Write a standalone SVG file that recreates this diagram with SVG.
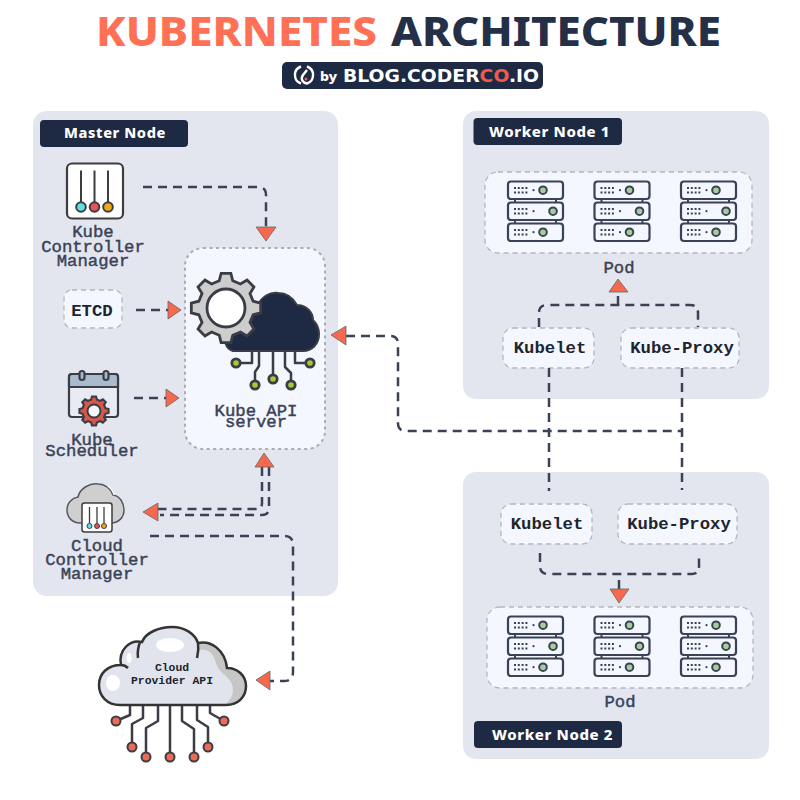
<svg xmlns="http://www.w3.org/2000/svg" width="800" height="800" viewBox="0 0 800 800">
<style>
.panel{fill:#e3e6ee}
.box{fill:#f4f7fd;stroke:#b4b7bf;stroke-width:1.300;stroke-dasharray:5 4}
.tag{fill:#1e2a44}
.tagt{font-family:"Noto Sans","Open Sans",sans-serif;font-weight:800;font-size:14.500px;letter-spacing:.6px;fill:#fff}
.m{font-family:"Liberation Mono",monospace;font-weight:400;font-size:17.300px;fill:#3a4258;stroke:#3a4258;stroke-width:.45;text-anchor:middle}
.k{font-family:"Liberation Mono",monospace;font-weight:700;font-size:17.300px;fill:#20242e;text-anchor:middle}
.c{fill:none;stroke:#3a4258;stroke-width:2.500;stroke-dasharray:9 6}
.a{fill:#f7694f;stroke:#666;stroke-width:.8;stroke-linejoin:round}
.ic{stroke:#3a3d45;stroke-width:2.200;stroke-linejoin:round;stroke-linecap:round}
.w{fill:none;stroke:#3a3d45;stroke-width:2.500;stroke-linejoin:round}
.lime{fill:#a3cb38;stroke:#3a3d45;stroke-width:2.800}
.red{fill:#ef6a55;stroke:#3a3d45;stroke-width:2}
.su{fill:#f4f7fd;stroke:#3a4258;stroke-width:2.200}
.dots{stroke:#3a4258;stroke-width:2;stroke-dasharray:2 1.800;fill:none}
.led{fill:#a6cf98;stroke:#3a4258;stroke-width:2}
</style>
<defs>
<polygon id="gear" points="27.17,-6.77 34.66,-4.87 34.66,4.87 27.17,6.77 24,14.42 27.95,21.06 21.06,27.95 14.42,24 6.77,27.17 4.87,34.66 -4.87,34.66 -6.77,27.17 -14.42,24 -21.06,27.95 -27.95,21.06 -24,14.42 -27.17,6.77 -34.66,4.87 -34.66,-4.87 -27.17,-6.77 -24,-14.42 -27.95,-21.06 -21.06,-27.95 -14.42,-24 -6.77,-27.17 -4.87,-34.66 4.87,-34.66 6.77,-27.17 14.42,-24 21.06,-27.95 27.95,-21.06 24,-14.42"/>
<g id="server">
<path d="M7 17V21M48 17V21M7 38V42M48 38V42" fill="none" stroke="#3a4258" stroke-width="2"/>
<rect class="su" x="0" y="0" width="55" height="17.500" rx="3"/>
<rect class="su" x="0" y="21" width="55" height="17.500" rx="3"/>
<rect class="su" x="0" y="42" width="55" height="17.500" rx="3"/>
<path class="dots" d="M6 6.500H21M6 11H21M6 27.500H21M6 32H21M6 48.500H21M6 53H21"/>
<circle cx="25.500" cy="8.700" r="1.100" fill="#3a4258"/><circle cx="25.500" cy="29.700" r="1.100" fill="#3a4258"/><circle cx="25.500" cy="50.700" r="1.100" fill="#3a4258"/>
<circle class="led" cx="35" cy="8.700" r="3.800"/><circle class="led" cx="45" cy="29.700" r="3.800"/><circle class="led" cx="35" cy="50.700" r="3.800"/>
</g>
</defs>
<rect width="800" height="800" fill="#fff"/>

<g id="title">
<text x="96" y="46" textLength="281" lengthAdjust="spacingAndGlyphs" font-family="Noto Sans,Open Sans,sans-serif" font-weight="800" font-size="41" fill="#ff7054">KUBERNETES</text>
<text x="391" y="46" textLength="330" lengthAdjust="spacingAndGlyphs" font-family="Noto Sans,Open Sans,sans-serif" font-weight="800" font-size="41" fill="#242f48">ARCHITECTURE</text>
</g>
<g id="byline">
<rect x="282" y="62" width="261" height="27" rx="5" class="tag"/>
<path d="M301 66.500A9 9 0 0 0 301 83.500M307 66.500A9 9 0 0 1 307 83.500C303 83 300 79 303 75L307 70" fill="none" stroke="#fff" stroke-width="2.400"/>
<circle cx="306" cy="79" r="1.500" fill="#ef5a4a"/>
<text x="320" y="81" textLength="17" lengthAdjust="spacingAndGlyphs" font-family="Noto Sans,sans-serif" font-weight="800" font-size="13" fill="#fff">by</text>
<text x="343" y="81.500" textLength="196" lengthAdjust="spacingAndGlyphs" font-family="DejaVu Sans,sans-serif" font-weight="700" font-size="17" fill="#fff">BLOG.CODER<tspan fill="#ef5a4a">CO</tspan>.IO</text>
</g>

<g id="master-node">
<rect class="panel" x="33" y="111" width="305" height="485" rx="14"/>
<rect class="tag" x="40" y="120" width="148" height="27" rx="4"/>
<text class="tagt" x="64" y="138" textLength="102" lengthAdjust="spacingAndGlyphs">Master Node</text>
</g>
<g id="worker-node-1">
<rect class="panel" x="463" y="111" width="306" height="288" rx="13"/>
<rect class="tag" x="473.500" y="118" width="148.500" height="27" rx="4"/>
<text class="tagt" x="489" y="137" textLength="121" lengthAdjust="spacingAndGlyphs">Worker Node 1</text>
</g>
<g id="worker-node-2">
<rect class="panel" x="463" y="472" width="306" height="287" rx="13"/>
<rect class="tag" x="474" y="721" width="148" height="27" rx="4"/>
<text class="tagt" x="492" y="740" textLength="121" lengthAdjust="spacingAndGlyphs">Worker Node 2</text>
</g>

<g id="kube-controller-manager">
<rect x="67" y="163.500" width="56" height="55" rx="5" fill="#fff" stroke="#3d3d3d" stroke-width="2.200"/>
<path d="M81 170.500V203M94.500 170.500V203M108 170.500V203" stroke="#3d3d3d" stroke-width="2"/>
<circle cx="81" cy="207" r="4.800" fill="#5ee0e8" stroke="#3d3d3d" stroke-width="2"/>
<circle cx="94.500" cy="207" r="4.800" fill="#e8505b" stroke="#3d3d3d" stroke-width="2"/>
<circle cx="108" cy="207" r="4.800" fill="#f0a818" stroke="#3d3d3d" stroke-width="2"/>
<text class="m" x="93" y="237">Kube</text><text class="m" x="93" y="252">Controller</text><text class="m" x="93" y="266">Manager</text>
</g>
<g id="etcd">
<rect class="box" x="64" y="290" width="58" height="38" rx="8"/>
<text class="k" x="92" y="316">ETCD</text>
</g>
<g id="kube-scheduler">
<rect x="69" y="374" width="49" height="43" rx="3" fill="#e8ebf2" class="ic"/>
<path d="M69 387V377Q69 374 72 374H115Q118 374 118 377V387Z" fill="#a9bccd" class="ic"/>
<rect x="79.500" y="371" width="5" height="9" rx="2.500" fill="#a9bccd" class="ic"/>
<rect x="103.500" y="371" width="5" height="9" rx="2.500" fill="#a9bccd" class="ic"/>
<use href="#gear" transform="translate(94 411) scale(.42)" fill="#d9574a" stroke="#3a3d45" stroke-width="5"/>
<circle cx="94" cy="411" r="6.500" fill="#f4f7fd" stroke="#3a3d45" stroke-width="2"/>
<text class="m" x="92" y="445">Kube</text><text class="m" x="92" y="456">Scheduler</text>
</g>
<g id="cloud-controller-manager">
<path d="M80 523C72 523 67 517 67 510C67 503 72 498 78 497C80 488 90 483 98 484C105 484 111 489 113 495C120 496 124 503 124 510C124 517 119 523 111 523Z" fill="#cfcfcf" stroke="#55585f" stroke-width="1.500"/>
<path d="M108 486Q113 489 114 495" fill="none" stroke="#f4f4f4" stroke-width="1.500"/>
<rect x="82" y="503" width="30" height="29" rx="2.500" fill="#fff" stroke="#3d3d3d" stroke-width="1.500"/>
<path d="M89.500 507V523M97 507V523M104 507V523" stroke="#3d3d3d" stroke-width="1.300"/>
<circle cx="89.500" cy="526" r="2.500" fill="#5ee0e8" stroke="#3d3d3d"/><circle cx="97" cy="526" r="2.500" fill="#e8505b" stroke="#3d3d3d"/><circle cx="104" cy="526" r="2.500" fill="#f0a818" stroke="#3d3d3d"/>
<text class="m" x="97" y="551">Cloud</text><text class="m" x="97" y="565">Controller</text><text class="m" x="97" y="579">Manager</text>
</g>
<g id="kube-api-server">
<rect x="185" y="248" width="140" height="201" rx="18" fill="#f4f7fd" stroke="#a9adb6" stroke-width="2" stroke-dasharray="3 3.500"/>
<path class="w" d="M252 351V363H236M259 351V366L255 372V385M273 351V379M285 351V367L291 373V385M295 351V363H310"/>
<circle class="lime" cx="236" cy="363" r="4.200"/><circle class="lime" cx="310" cy="363" r="4.200"/><circle class="lime" cx="255" cy="385" r="4.200"/><circle class="lime" cx="273" cy="379" r="4.200"/><circle class="lime" cx="291" cy="385" r="4.200"/>
<path d="M233 351C226 349 222 340 228 332L258 305C262 296 270 292 278 293C287 293 293 298 297 305C306 305 313 312 313 320C317 324 319 329 319 334C319 344 312 351 303 351Z" fill="#1e2a44" stroke="#3a3d45" stroke-width="2"/>
<use href="#gear" transform="translate(226 308)" fill="#cdcdcd" stroke="#3a3d45" stroke-width="2.800"/>
<circle cx="226" cy="308" r="19" fill="#fff" stroke="#3a3d45" stroke-width="2.800"/>
<text class="m" x="256" y="416">Kube API</text><text class="m" x="256" y="427">server</text>
</g>

<g id="pod-1">
<rect class="box" x="485" y="172" width="267" height="81" rx="13"/>
<use href="#server" x="508" y="181.500"/><use href="#server" x="594.500" y="181.500"/><use href="#server" x="681" y="181.500"/>
<text class="m" x="619" y="273">Pod</text>
</g>
<g id="kubelet-1"><rect class="box" x="503" y="328" width="91" height="40" rx="10"/><text class="k" x="550" y="353">Kubelet</text></g>
<g id="kube-proxy-1"><rect class="box" x="621" y="328" width="118" height="40" rx="10"/><text class="k" x="682" y="353">Kube-Proxy</text></g>
<g id="kubelet-2"><rect class="box" x="501" y="504" width="91" height="40" rx="10"/><text class="k" x="547" y="529">Kubelet</text></g>
<g id="kube-proxy-2"><rect class="box" x="618" y="504" width="119" height="40" rx="10"/><text class="k" x="679" y="529">Kube-Proxy</text></g>
<g id="pod-2">
<rect class="box" x="487" y="607" width="266" height="81" rx="13"/>
<use href="#server" x="508" y="616.500"/><use href="#server" x="594.500" y="616.500"/><use href="#server" x="681" y="616.500"/>
<text class="m" x="620" y="707">Pod</text>
</g>

<g id="cloud-provider-api">
<path class="w" d="M130 705V715L116 721M143 705V718L132 724V747M158 705V721L146 728V757M170 705V757M182 705V721L194 729V757M197 705V720L208 727V747M210 705V713L224 721"/>
<circle class="red" cx="116" cy="721" r="4.500"/><circle class="red" cx="132" cy="747" r="4.500"/><circle class="red" cx="146" cy="757" r="4.500"/><circle class="red" cx="170" cy="757" r="4.500"/><circle class="red" cx="194" cy="757" r="4.500"/><circle class="red" cx="208" cy="747" r="4.500"/><circle class="red" cx="224" cy="721" r="4.500"/>
<path d="M120 705C107 705 99 696 99 685C99 673 108 665 121 665C118 650 130 639 142 642C146 632 160 627 172 627C185 627 195 634 198 643C211 640 225 650 227 668C238 668 246 676 246 686C246 697 238 705 226 705Z" fill="#e1e4ec"/>
<path d="M198 643C211 640 225 650 227 668C238 668 246 676 246 686C246 697 238 705 226 705H225C235 697 236 685 226 676C220 671 217 668 215 660C212 652 206 648 198 650Z" fill="#c6c6c6"/>
<ellipse cx="170" cy="645" rx="14" ry="7" fill="#fff"/><ellipse cx="113" cy="683" rx="7" ry="8" fill="#fff"/><ellipse cx="129" cy="658" rx="2.500" ry="5" fill="#fff"/>
<path d="M120 705C107 705 99 696 99 685C99 673 108 665 121 665C118 650 130 639 142 642C146 632 160 627 172 627C185 627 195 634 198 643C211 640 225 650 227 668C238 668 246 676 246 686C246 697 238 705 226 705ZM140 642Q137 650 138 658M198 643Q199 650 197 658M121 665Q125 665 128 668" fill="none" stroke="#333" stroke-width="2.500"/>
<text x="172" y="671" text-anchor="middle" font-family="Liberation Mono,monospace" font-weight="700" font-size="11.400" fill="#20242e">Cloud</text>
<text x="172" y="684" text-anchor="middle" font-family="Liberation Mono,monospace" font-weight="700" font-size="11.400" fill="#20242e">Provider API</text>
</g>

<g id="connectors">
<path class="c" d="M143 187H258Q266 187 266 195V228"/>
<polygon class="a" points="256,227 276,227 266,241"/>
<path class="c" d="M136 310H168"/>
<polygon class="a" points="168,301 181,310 168,319"/>
<path class="c" d="M134 398H167"/>
<polygon class="a" points="166,389 179,398 166,407"/>
<path class="c" d="M262 467V503Q262 509 256 509H157"/>
<path class="c" d="M269 467V508Q269 515 262 515H160"/>
<polygon class="a" points="264,453 274,467 255,467"/>
<polygon class="a" points="143,512 158,503 158,521"/>
<path class="c" d="M150 536H284Q293 536 293 545V672Q293 681 284 681H270"/>
<polygon class="a" points="256,680 270,671 270,690"/>
<path class="c" d="M346 336H390Q398 336 398 344V423Q398 431 406 431H682"/>
<polygon class="a" points="331,335 346,326 346,345"/>
<path class="c" d="M549 368V491"/>
<path class="c" d="M682 368V490"/>
<path class="c" d="M539 327V313Q539 305 547 305H690Q698 305 698 313V327"/>
<path class="c" d="M618 305V292"/>
<polygon class="a" points="618,279 628,292 609,292"/>
<path class="c" d="M540 553V566Q540 574 548 574H692Q699 574 699 566V553"/>
<path class="c" d="M619 580V590"/>
<polygon class="a" points="610,589 629,589 619,603"/>
</g>
</svg>
